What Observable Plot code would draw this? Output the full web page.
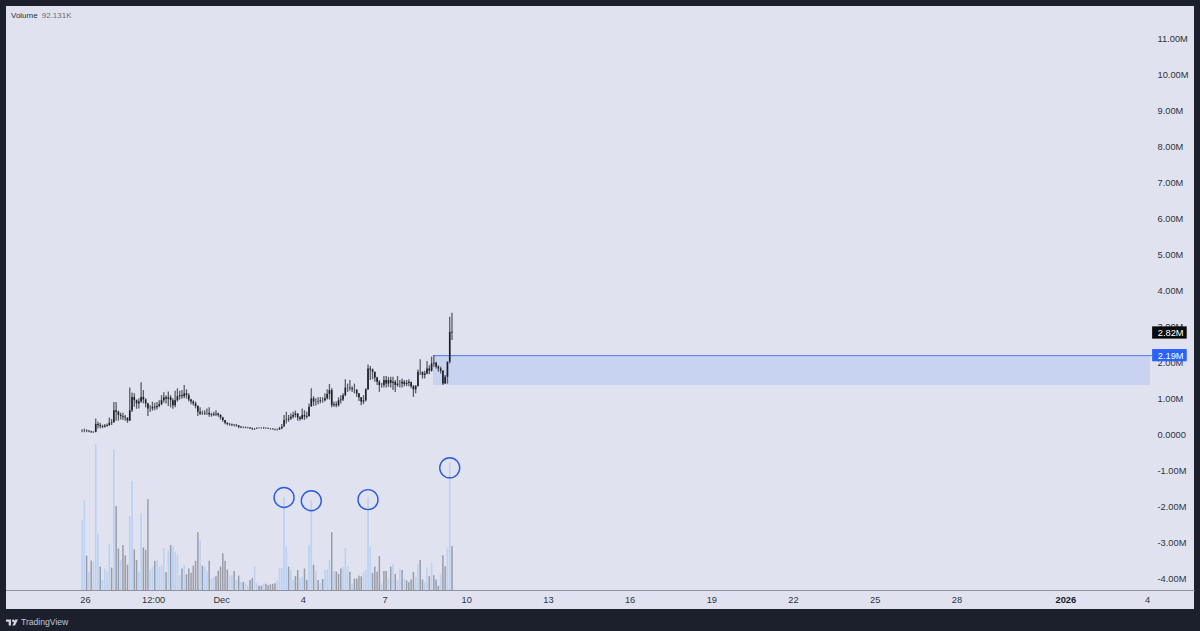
<!DOCTYPE html>
<html>
<head>
<meta charset="utf-8">
<script src="https://cdn.jsdelivr.net/npm/d3@7"></script>
<script src="https://cdn.jsdelivr.net/npm/@observablehq/plot@0.6"></script>
<style>
html,body{margin:0;padding:0;width:1200px;height:631px;overflow:hidden;background:#1c202d;font-family:"Liberation Sans",Arial,sans-serif}
#panel{position:absolute;left:6px;top:6px;width:1188px;height:603px;background:#e0e3ef}
#legend{position:absolute;left:5px;top:5px;font-size:8px;line-height:10px;color:#2a2e39;white-space:pre}
#legend span{color:#6a6d78;margin-left:4px}
#brand{position:absolute;left:6px;top:614px;height:16px;display:flex;align-items:center;color:#c4c6cc;font-size:8.6px}
#brand svg{margin-right:3px}
</style>
</head>
<body>
<div id="panel"><div id="legend">Volume<span>92.131K</span></div></div>
<div id="brand"><svg width="12" height="7" viewBox="0 0 36 20"><path fill="#d1d4dc" d="M0 1h15v18H8V8H0zM22 1a4 4 0 1 1 0 8 4 4 0 0 1 0-8zM28 1h8l-9 18h-8z"/></svg>TradingView</div>
<script>
// 2-hour bars
const firstBar = Date.UTC(2025, 10, 25, 21);
const barHours = 2;

const highs = [.13,.15,.13,.11,.09,.08,.43,.34,.31,.26,.28,.29,.46,.42,.89,.89,.65,.59,.59,.53,.43,1.29,1.15,1.13,.96,.99,1.44,1.22,.99,.87,.80,.90,.87,.89,.94,1.08,1.16,1.08,1.18,1.08,.99,1.20,1.27,1.20,1.22,1.36,1.24,1.13,.98,.94,.90,.80,.74,.65,.66,.71,.74,.59,.62,.66,.59,.55,.48,.39,.33,.31,.29,.28,.28,.24,.22,.21,.21,.20,.19,.18,.17,.19,.19,.19,.20,.19,.18,.17,.16,.15,.15,.20,.28,.53,.62,.53,.57,.62,.65,.57,.50,.71,.66,.62,.85,1.27,1.05,.99,1.02,1.03,1.02,1.13,1.24,1.39,1.27,.90,.90,1.02,1.08,1.13,1.52,1.40,1.50,1.33,1.40,1.22,1.13,1.03,1.08,1.27,1.93,1.89,1.82,1.73,1.59,1.50,1.42,1.61,1.61,1.59,1.59,1.59,1.50,1.61,1.50,1.54,1.50,1.50,1.52,1.40,1.36,1.36,1.79,2.08,1.73,1.76,2.03,1.91,2.15,2.19,2.01,1.91,1.87,1.78,1.64,2.01,3.26,3.37];
const lows = [.05,.05,.05,.05,.03,.03,.05,.15,.16,.16,.18,.20,.22,.25,.31,.37,.37,.40,.39,.37,.31,.37,.61,.76,.70,.71,.87,.85,.74,.50,.62,.65,.66,.68,.74,.80,.87,.85,.78,.74,.70,.74,.90,.96,.98,.99,.98,.90,.83,.79,.71,.50,.53,.53,.53,.53,.48,.48,.50,.50,.48,.40,.34,.27,.24,.23,.22,.21,.20,.16,.16,.16,.16,.15,.14,.11,.11,.14,.15,.15,.15,.15,.14,.12,.12,.10,.10,.11,.13,.28,.29,.34,.39,.43,.46,.37,.37,.40,.39,.43,.48,.78,.78,.79,.83,.85,.87,.90,.96,.96,.74,.76,.74,.76,.85,.92,1.05,1.17,1.20,1.17,1.13,1.03,.92,.80,.83,.90,1.22,1.50,1.52,1.45,1.36,1.17,1.29,1.29,1.29,1.31,1.29,1.22,1.17,1.31,1.29,1.29,1.33,1.33,1.33,1.27,1.03,1.13,1.33,1.64,1.54,1.54,1.66,1.66,1.73,1.87,1.82,1.73,1.68,1.36,1.39,1.40,1.96,2.61];
const closes = [.10,.10,.09,.08,.06,.06,.28,.25,.22,.20,.23,.25,.31,.33,.66,.62,.53,.50,.48,.46,.37,.66,1.03,.94,.85,.90,1.03,.96,.85,.71,.71,.76,.74,.78,.83,.94,1.02,.98,1.02,.94,.80,.94,1.05,1.08,1.05,1.13,1.08,.96,.90,.85,.78,.62,.57,.57,.59,.59,.55,.53,.55,.57,.53,.46,.39,.31,.28,.27,.26,.25,.24,.20,.19,.19,.18,.18,.16,.15,.15,.16,.16,.16,.17,.16,.15,.15,.14,.13,.13,.16,.20,.39,.40,.43,.48,.53,.57,.46,.42,.53,.48,.50,.76,.99,.90,.90,.92,.94,.94,.99,1.11,1.22,.80,.83,.80,.94,.96,1.08,1.29,1.29,1.27,1.24,1.24,1.13,1.02,.90,.94,1.24,1.82,1.79,1.73,1.57,1.45,1.36,1.36,1.50,1.40,1.50,1.42,1.45,1.36,1.40,1.40,1.45,1.39,1.42,1.45,1.33,1.24,1.33,1.73,1.73,1.64,1.68,1.82,1.76,1.96,1.98,1.87,1.82,1.76,1.40,1.59,2.01,2.84,2.82];

// Volume in thousands; last value is the legend's 92.131K
const volumes = [147,188,72,38,62,59,306,117,49,21,45,38,96,47,295,176,87,63,94,73,53,155,229,85,63,38,162,89,84,190,42,49,61,64,49,52,88,37,82,94,91,80,73,31,45,52,33,45,36,51,61,121,105,51,49,40,61,24,28,29,40,49,77,61,43,31,31,40,21,30,17,17,14,10,21,25,50,14,9,9,13,13,10,12,13,14,20,46,46,195,92,49,42,21,29,42,24,28,45,21,94,188,53,40,21,14,23,42,43,63,121,40,39,34,45,49,88,50,38,14,24,24,30,29,38,42,194,91,36,49,38,71,14,40,40,24,49,54,34,21,45,42,24,20,16,22,38,28,54,63,22,17,47,29,56,31,22,9,34,73,50,87,267,92.131];
const blueVolumeBars = [0,1,3,5,6,7,9,10,11,12,14,17,21,22,25,26,30,31,33,34,35,36,38,40,41,42,43,45,52,54,55,57,58,65,66,68,70,72,73,76,77,80,86,87,88,89,90,92,93,96,97,100,101,103,105,107,108,109,111,115,116,117,119,124,125,126,127,132,135,137,139,140,142,147,148,151,152,154,158,161,162];
const volumeBase = -4.333;
const volumeKPerUnit = 75.4;

const priceTicks = [-4,-3,-2,-1,0,1,2,3,4,5,6,7,8,9,10,11];
const dateTicks = [
  ["2025-11-26","26"],["2025-11-28T12:00Z","12:00"],["2025-12-01","Dec"],["2025-12-04","4"],["2025-12-07","7"],
  ["2025-12-10","10"],["2025-12-13","13"],["2025-12-16","16"],["2025-12-19","19"],["2025-12-22","22"],
  ["2025-12-25","25"],["2025-12-28","28"],["2026-01-04","4"]
];
const boldDateTicks = [["2026-01-01","2026"]];

const circledBars = [89,101,126,162];
const circleLevels = [-1.75,-1.84,-1.81,-.925];

const zoneTop = 2.19, zoneBottom = 1.36;
const lastPrice = 2.82;
const zoneStart = new Date("2025-12-08T18:40Z");
const xEnd = new Date("2026-01-04T02:38Z");
const tagStart = new Date("2026-01-04T04:30Z");
const tagEnd = new Date("2026-01-05T11:00Z");
const tagText = new Date("2026-01-04T09:00Z");
const panelEnd = new Date("2026-01-05T18:00Z");

const bars = closes.map((c,i)=>({
  t:new Date(firstBar+i*barHours*3600e3),
  high:highs[i], low:lows[i], close:c,
  open:i?closes[i-1]:c,
  top:volumeBase+volumes[i]/volumeKPerUnit,
  blue:blueVolumeBars.includes(i)
}));
const circles = circledBars.map((b,i)=>({t:bars[b].t,y:circleLevels[i]}));
const toDates = a=>a.map(d=>new Date(d[0]));
const labelOf = a=>{const m=new Map(a.map(d=>[+new Date(d[0]),d[1]]));return d=>m.get(+d);};
const tags = [
  {y:lastPrice,label:"2.82M",fill:"#0b0b0d"},
  {y:zoneTop,label:"2.19M",fill:"#2962ff"}
];

const chart = Plot.plot({
  width:1188, height:603,
  marginLeft:0, marginRight:44, marginTop:0, marginBottom:19,
  style:{background:"transparent",fontFamily:"'Liberation Sans',Arial,sans-serif",fontSize:"9.3px",overflow:"visible",color:"#2a2e39"},
  x:{type:"utc",domain:[new Date("2025-11-23T02:22Z"),xEnd]},
  y:{domain:[volumeBase,11.889]},
  marks:[
    Plot.axisY({anchor:"right",ticks:priceTicks,tickFormat:d=>d===0?"0.0000":d.toFixed(2)+"M",tickSize:0,tickPadding:7,dy:1,label:null,fill:"#2f323c"}),
    Plot.axisX({anchor:"bottom",ticks:toDates(dateTicks),tickFormat:labelOf(dateTicks),tickSize:0,tickPadding:6,label:null,fill:"#2f323c"}),
    Plot.axisX({anchor:"bottom",ticks:toDates(boldDateTicks),tickFormat:labelOf(boldDateTicks),tickSize:0,tickPadding:6,label:null,fill:"#16181f",fontWeight:"bold"}),
    Plot.ruleX(bars.filter(d=>d.blue),{x:"t",y1:volumeBase,y2:"top",stroke:"#bcd2f3",strokeWidth:1.7}),
    Plot.ruleX(bars.filter(d=>!d.blue),{x:"t",y1:volumeBase,y2:"top",stroke:"#9a9ca6",strokeWidth:1.5}),
    Plot.ruleY([volumeBase],{x1:new Date("2025-11-23T02:22Z"),x2:panelEnd,stroke:"#8f929e",strokeWidth:1}),
    Plot.rect([{}],{x1:()=>zoneStart,x2:()=>xEnd,y1:()=>zoneBottom,y2:()=>zoneTop,fill:"#2962ff",fillOpacity:.13}),
    Plot.ruleY([zoneTop],{x1:zoneStart,x2:tagStart,stroke:"#4f78e4",strokeWidth:1}),
    Plot.ruleX(bars,{x:"t",y1:"low",y2:"high",stroke:"#5a5d66",strokeWidth:1.3}),
    Plot.ruleX(bars,{x:"t",y1:"open",y2:"close",stroke:"#1d1f26",strokeWidth:1.6}),
    Plot.dot(circles,{x:"t",y:"y",r:10,fill:"none",stroke:"#2c5ae0",strokeWidth:1.4}),
    Plot.rect(tags,{x1:()=>tagStart,x2:()=>tagEnd,y1:d=>d.y-.17,y2:d=>d.y+.17,fill:"fill"}),
    Plot.text(tags,{x:()=>tagText,y:"y",text:"label",fill:"#fff",textAnchor:"start",dy:.5})
  ]
});
document.getElementById("panel").appendChild(chart);
</script>
</body>
</html>
